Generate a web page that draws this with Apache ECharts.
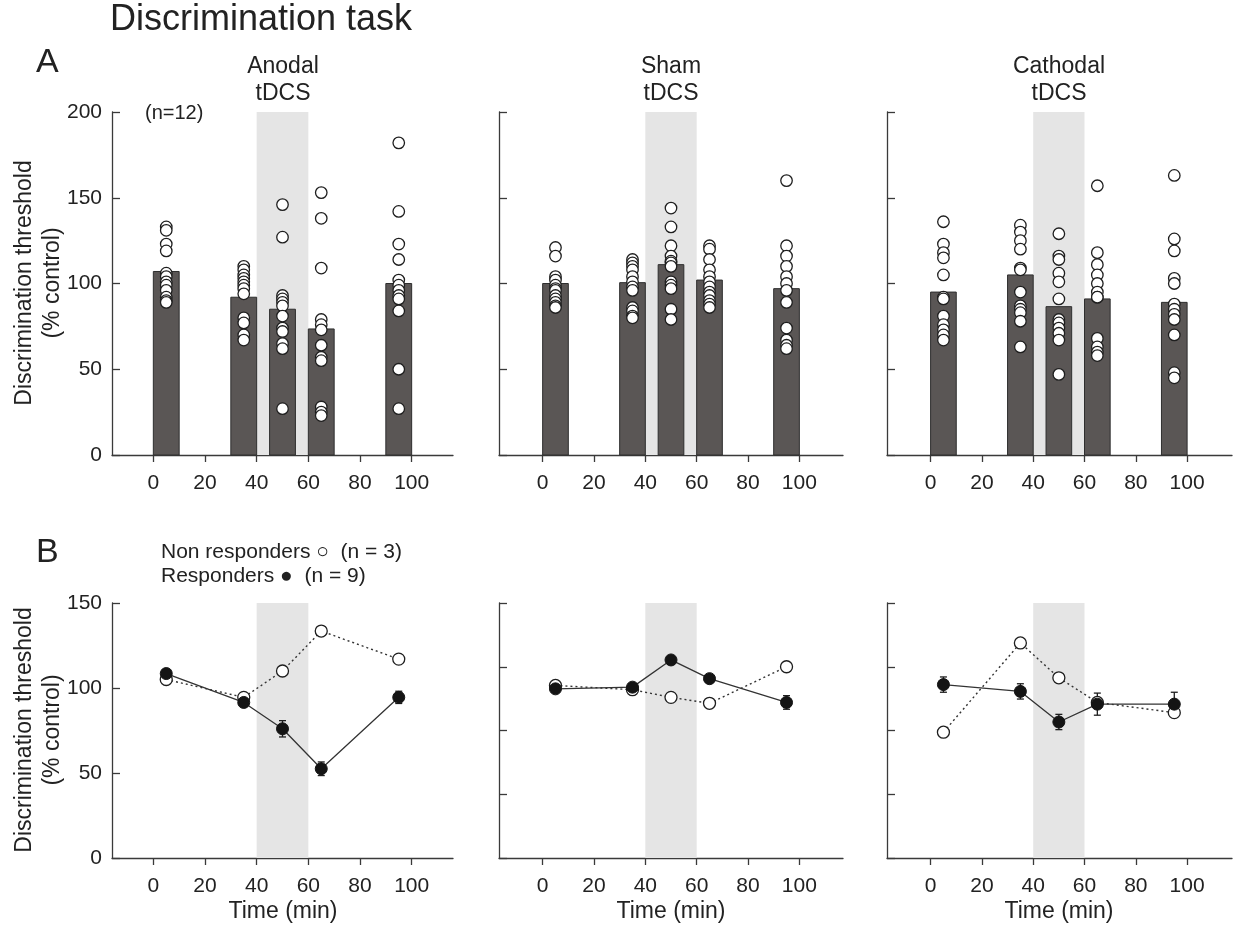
<!DOCTYPE html>
<html>
<head>
<meta charset="utf-8">
<title>Discrimination task</title>
<script src="https://cdn.jsdelivr.net/npm/echarts@6/dist/echarts.min.js"></script>
<style>
  html, body { margin: 0; padding: 0; background: #fff; }
  #chart { width: 1236px; height: 930px; }
</style>
</head>
<body>
<div id="chart"></div>
<script>
// time points (min) and tick labels
var times = [5, 35, 50, 65, 95];
var xTicks = [0, 20, 40, 60, 80, 100];
var stimWindow = [40, 60];
var panelNames = ['Anodal\ntDCS', 'Sham\ntDCS', 'Cathodal\ntDCS'];

// A: group means (bars) and single subjects (n=12)
var anodalMean = [107, 92, 85, 73.5, 100];
var shamMean = [100, 100.5, 111, 102, 97];
var cathodalMean = [95, 105, 86.5, 91, 89];

var anodalIndiv = [
  [133, 131, 123, 119, 106, 104, 101, 99, 96, 92, 90, 89],
  [110, 108, 105, 103, 101, 99, 97, 94, 80, 77, 70, 67],
  [146, 127, 93, 91, 89, 87, 81, 74, 72, 65, 62, 27],
  [153, 138, 109, 79, 76, 73, 64, 57, 55, 28, 25, 23],
  [182, 142, 123, 114, 102, 99, 96, 93, 91, 84, 50, 27]
];
var shamIndiv = [
  [121, 116, 104, 102, 99, 97, 96, 93, 91, 89, 87, 86],
  [114, 112, 110, 108, 104, 101, 98, 96, 86, 84, 81, 80],
  [144, 133, 122, 116, 113, 112, 110, 101, 99, 97, 85, 79],
  [122, 120, 114, 108, 104, 101, 98, 95, 93, 90, 88, 86],
  [160, 122, 116, 110, 104, 100, 96, 89, 74, 67, 64, 62]
];
var cathodalIndiv = [
  [136, 123, 118, 115, 105, 92, 91, 81, 76, 73, 70, 67],
  [134, 130, 125, 120, 109, 108, 95, 87, 85, 83, 78, 63],
  [129, 116, 114, 106, 101, 91, 79, 77, 74, 71, 67, 47],
  [157, 118, 111, 105, 100, 95, 92, 92, 68, 63, 60, 58],
  [163, 126, 119, 103, 100, 88, 85, 82, 79, 70, 48, 45]
];

// B: responders (mean +- sem) and non responders
var anodalResp = [108.5, 91.5, 76, 52.5, 94.5];
var anodalRespErr = [2, 1.5, 4.8, 4, 3.6];
var anodalNon = [105, 94.5, 110, 133.5, 117];
var shamResp = [99.5, 100.5, 116.5, 105.5, 91.5];
var shamRespErr = [1.5, 1.5, 2, 1.5, 4];
var shamNon = [101.5, 99, 94.5, 91, 112.5];
var cathodalResp = [102, 98, 80, 90.5, 90.5];
var cathodalRespErr = [4.5, 4.5, 4.5, 6.5, 7];
var cathodalNon = [74, 126.5, 106, 91.5, 85.5];

var means = [anodalMean, shamMean, cathodalMean];
var indivs = [anodalIndiv, shamIndiv, cathodalIndiv];
var resps = [anodalResp, shamResp, cathodalResp];
var respErrs = [anodalRespErr, shamRespErr, cathodalRespErr];
var nons = [anodalNon, shamNon, cathodalNon];

var FONT = 'Liberation Sans, Arial, sans-serif';
var INK = '#222';
var AXIS = '#3a3a3a';

// layout
var lefts = [112, 499, 887];
var widths = [341, 344, 345];
var xMins = [-16, -17, -17];
var xMaxs = [116, 117, 117.5];
var topA = 112, hA = 343;
var topB = 603, hB = 255;

var chart = echarts.init(document.getElementById('chart'));

var grids = [], xAxes = [], yAxes = [], series = [];

function addAxes(k, p, top, height, yMax, yInterval, showLabels) {
  grids[k] = { left: lefts[p], top: top, width: widths[p], height: height };
  xAxes[k] = {
    gridIndex: k, type: 'value', min: xMins[p], max: xMaxs[p],
    axisLine: { show: true, onZero: false, lineStyle: { color: AXIS, width: 1.3 } },
    axisTick: { show: true, length: 7, customValues: xTicks, lineStyle: { color: AXIS, width: 1.3 } },
    axisLabel: { customValues: xTicks, fontSize: 21, color: INK, margin: 18, fontFamily: FONT },
    splitLine: { show: false }
  };
  yAxes[k] = {
    gridIndex: k, type: 'value', min: 0, max: yMax, interval: yInterval,
    axisLine: { show: true, onZero: false, lineStyle: { color: AXIS, width: 1.3 } },
    axisTick: { show: true, inside: true, length: 8, lineStyle: { color: AXIS, width: 1.3 } },
    axisLabel: { show: showLabels, fontSize: 21, color: INK, margin: 10, fontFamily: FONT },
    splitLine: { show: false }
  };
}

function shadeSeries(k) {
  return {
    type: 'custom', xAxisIndex: k, yAxisIndex: k, z: 1, silent: true,
    data: [[stimWindow[0], stimWindow[1]]],
    encode: { x: [0, 1] },
    renderItem: function (params, api) {
      var a = api.coord([api.value(0), 0]);
      var b = api.coord([api.value(1), 0]);
      var cs = params.coordSys;
      return { type: 'rect', shape: { x: a[0], y: cs.y, width: b[0] - a[0], height: cs.height },
        style: { fill: '#e5e5e5' } };
    }
  };
}

for (var p = 0; p < 3; p++) {
  // ---- panel A ----
  var kA = p;
  addAxes(kA, p, topA, hA, 200, 50, p === 0);
  series.push(shadeSeries(kA));
  series.push({
    type: 'custom', xAxisIndex: kA, yAxisIndex: kA, z: 2,
    data: times.map(function (t, j) { return [t, means[p][j]]; }),
    encode: { x: 0, y: 1 },
    renderItem: function (params, api) {
      var t = api.value(0), m = api.value(1);
      var a = api.coord([t - 5, m]);
      var b = api.coord([t + 5, 0]);
      return { type: 'rect', shape: { x: a[0], y: a[1], width: b[0] - a[0], height: b[1] - a[1] },
        style: { fill: '#5a5655', stroke: '#2e2e2e', lineWidth: 1 } };
    }
  });
  var pts = [];
  times.forEach(function (t, j) {
    indivs[p][j].forEach(function (v) { pts.push([t, v]); });
  });
  series.push({
    type: 'scatter', xAxisIndex: kA, yAxisIndex: kA, z: 3,
    data: pts, symbol: 'circle', symbolSize: 11.5,
    itemStyle: { color: '#fff', borderColor: '#1e1e1e', borderWidth: 1.3, opacity: 1 }
  });

  // ---- panel B ----
  var kB = p + 3;
  addAxes(kB, p, topB, hB, 150, p === 0 ? 50 : 37.5, p === 0);
  series.push(shadeSeries(kB));
  series.push({
    type: 'custom', xAxisIndex: kB, yAxisIndex: kB, z: 3,
    data: times.map(function (t, j) { return [t, resps[p][j], respErrs[p][j]]; }),
    encode: { x: 0, y: 1 },
    renderItem: function (params, api) {
      var t = api.value(0), v = api.value(1), e = api.value(2);
      var hi = api.coord([t, v + e]);
      var lo = api.coord([t, v - e]);
      var st = { stroke: '#1e1e1e', lineWidth: 1.3 };
      return { type: 'group', children: [
        { type: 'line', shape: { x1: hi[0], y1: hi[1], x2: lo[0], y2: lo[1] }, style: st },
        { type: 'line', shape: { x1: hi[0] - 3.5, y1: hi[1], x2: hi[0] + 3.5, y2: hi[1] }, style: st },
        { type: 'line', shape: { x1: lo[0] - 3.5, y1: lo[1], x2: lo[0] + 3.5, y2: lo[1] }, style: st }
      ] };
    }
  });
  series.push({
    type: 'line', xAxisIndex: kB, yAxisIndex: kB, z: 4,
    data: times.map(function (t, j) { return [t, nons[p][j]]; }),
    symbol: 'circle', symbolSize: 12,
    lineStyle: { color: '#333', width: 1.4, type: [2, 3] },
    itemStyle: { color: '#fff', borderColor: '#1e1e1e', borderWidth: 1.3 }
  });
  series.push({
    type: 'line', xAxisIndex: kB, yAxisIndex: kB, z: 5,
    data: times.map(function (t, j) { return [t, resps[p][j]]; }),
    symbol: 'circle', symbolSize: 12,
    lineStyle: { color: '#333', width: 1.3 },
    itemStyle: { color: '#141414', borderColor: '#141414', borderWidth: 1 }
  });
}

// text elements
var texts = [];
function txt(x, y, s, size, extra) {
  var o = { type: 'text', x: x, y: y, z: 10, silent: true,
    style: { text: s, fontSize: size, fontFamily: FONT, fill: INK, align: 'left', verticalAlign: 'middle' } };
  if (extra) {
    for (var key in extra.style || {}) o.style[key] = extra.style[key];
    if (extra.rotation) o.rotation = extra.rotation;
  }
  texts.push(o);
}
txt(110, 20, 'Discrimination task', 36);
txt(36, 63, 'A', 34);
txt(36, 553, 'B', 34);
var centers = [283, 671, 1059];
panelNames.forEach(function (n, i) {
  txt(centers[i], 80, n, 23, { style: { align: 'center', lineHeight: 27 } });
  txt(centers[i], 912, 'Time (min)', 23, { style: { align: 'center' } });
});
txt(145, 113, '(n=12)', 20);
txt(161, 552, 'Non responders \u25CB  (n = 3)', 21);
txt(161, 576, 'Responders \u25CF  (n = 9)', 21);
[283, 730].forEach(function (cy) {
  txt(39, cy, 'Discrimination threshold\n(% control)', 23,
    { style: { align: 'center', lineHeight: 28 }, rotation: Math.PI / 2 });
});

chart.setOption({
  animation: false,
  backgroundColor: '#fff',
  grid: grids,
  xAxis: xAxes,
  yAxis: yAxes,
  series: series,
  graphic: texts
});
</script>
</body>
</html>
